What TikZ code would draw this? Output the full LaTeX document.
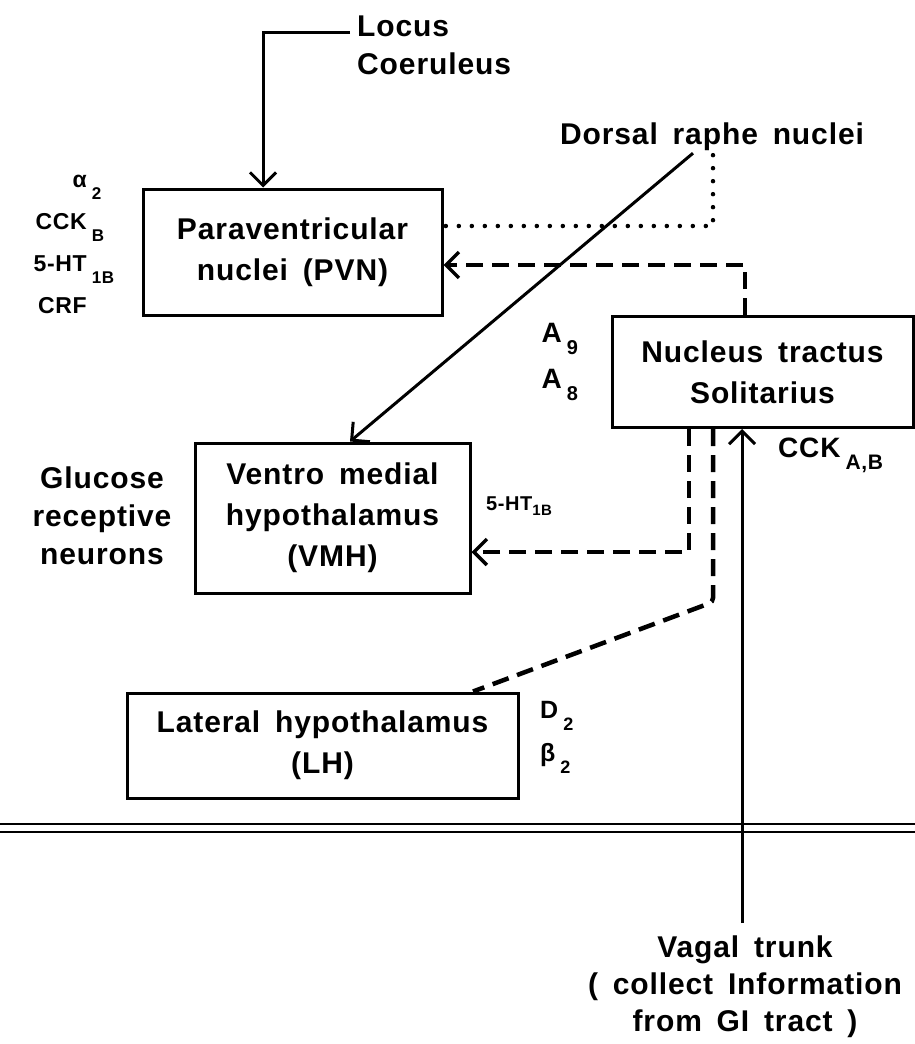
\documentclass[tikz,border=0pt]{standalone}
\usepackage{fontspec}
\setmainfont{Liberation Sans}[LetterSpace=3,WordSpace=1.6]
\usetikzlibrary{arrows.meta,positioning}
\newcommand{\lowsub}[2][17]{\hspace{5pt}\raisebox{-12pt}{\fontsize{#1}{#1}\selectfont #2}}

\begin{document}
\begin{tikzpicture}[x=1pt,y=-1pt,
  caja/.style={draw,line width=3pt,align=center,inner sep=0pt,
               font=\fontsize{30}{41}\selectfont\bfseries},
  et/.style={align=center,inner sep=0pt,font=\fontsize{30}{38}\selectfont\bfseries},
  rec/.style={inner sep=0pt,font=\fontsize{23}{42}\selectfont\bfseries},
  fl/.style={line width=3pt},
  flecha/.style={-{Straight Barb[length=13pt,width=26pt]}},
  dsh/.style={line width=3.5pt,dash pattern=on 17pt off 9pt},
  pun/.style={line width=4.5pt,line cap=round,dash pattern=on 0pt off 13pt}]
  \useasboundingbox (0,0) rectangle (915,1044);

  \node[caja,minimum width=299pt,minimum height=126pt] (pvn) at (292.5,252) {Paraventricular\\nuclei (PVN)};
  \node[caja,minimum width=301pt,minimum height=111pt] (nts) at (762.5,372) {Nucleus tractus\\Solitarius};
  \node[caja,minimum width=275pt,minimum height=150pt] (vmh) at (332.5,518) {Ventro medial\\hypothalamus\\(VMH)};
  \node[caja,minimum width=391pt,minimum height=105pt] (lh) at (322.5,745.5) {Lateral hypothalamus\\(LH)};

  \node[et,anchor=west,align=left] (lc) at (357,45) {Locus\\Coeruleus};
  \node[et] (drn) at (712,137) {Dorsal raphe nuclei};
  \node[et] (glu) at (102,516) {Glucose\\receptive\\neurons};
  \node[et,font=\fontsize{30}{37}\selectfont\bfseries] (vag) at (745,987) {Vagal trunk\\( collect Information\\from GI tract )};

  \node[rec,anchor=east,align=right] (recp) at (87,244) {α\rlap{\lowsub{2}}\\CCK\rlap{\lowsub{B}}\\5-HT\rlap{\lowsub{1B}}\\CRF};
  \node[rec,anchor=east,align=left,font=\fontsize{28}{46}\selectfont\bfseries] (anuc) at (562,362) {A\rlap{\lowsub[20]{9}}\\A\rlap{\lowsub[20]{8}}};
  \node[rec,anchor=base west,font=\fontsize{28}{28}\selectfont\bfseries] (cckab) at (778,457) {CCK\lowsub[21]{A,B}};
  \node[rec,anchor=base west,font=\fontsize{20}{20}\selectfont\bfseries] (ht) at (486,510) {5-HT\raisebox{-5pt}{\fontsize{15}{15}\selectfont 1B}};
  \node[rec,anchor=west,align=left,font=\fontsize{25}{43}\selectfont\bfseries] (dbeta) at (540,737) {D\rlap{\lowsub[18]{2}}\\β\rlap{\lowsub[18]{2}}};

  % brain stem border
  \draw[line width=2pt,double,double distance=6pt] (0,828) -- (915,828);

  \draw[fl,flecha] ([shift={(-7pt,13pt)}]lc.west) -| ([xshift=-29.5pt]pvn.north);
  \draw[fl,flecha] ([xshift=-19pt,yshift=-2pt]drn.south) -- ([xshift=17.5pt]vmh.north);
  \draw[pun] ([xshift=1pt,yshift=-4pt]drn.south) |- ([yshift=26pt]pvn.east);
  \draw[dsh,flecha] ([xshift=-17.5pt]nts.north) |- ([yshift=-13pt]pvn.east);
  \draw[dsh,flecha] ([xshift=-73.5pt]nts.south) |- ([yshift=-34pt]vmh.east);
  \draw[dsh,line width=4.5pt,rounded corners=4pt] ([xshift=-49.5pt]nts.south) -- ++(0,173) -- ([xshift=150.5pt]lh.north);

  \coordinate (vagtop) at (742,923);
  \draw[fl,flecha] (vagtop) -- (vagtop |- nts.south);
\end{tikzpicture}
\end{document}
